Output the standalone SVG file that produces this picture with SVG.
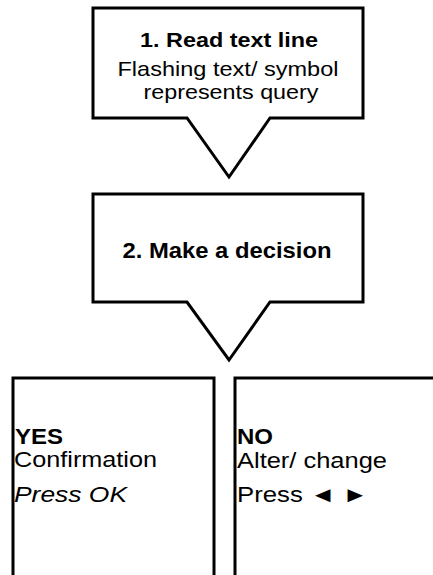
<svg xmlns="http://www.w3.org/2000/svg" width="433" height="575" viewBox="0 0 433 575">
<style>
.box{fill:#fff;stroke:#000;stroke-width:3;stroke-linejoin:miter}
text{font-family:"Liberation Sans",Arial,"DejaVu Sans",sans-serif;fill:#000}
.t{font-size:21px}
.b{font-weight:bold}
.c{text-anchor:middle}
.big{font-size:22px}
</style>
<rect width="433" height="575" fill="#fff"/>
<g id="step1">
<path class="box" d="M93,8 H363 V118 H270 L229,177 L187,118 H93 Z"/>
<text class="t b c" x="229" y="47" textLength="178" lengthAdjust="spacingAndGlyphs">1. Read text line</text>
<text class="t c" x="228" y="76" textLength="221" lengthAdjust="spacingAndGlyphs">Flashing text/ symbol</text>
<text class="t c" x="231" y="99" textLength="175" lengthAdjust="spacingAndGlyphs">represents query</text>
</g>
<g id="step2">
<path class="box" d="M93,194 H363 V302 H270 L229,360 L187,302 H93 Z"/>
<text class="big b c" x="227" y="258" textLength="209" lengthAdjust="spacingAndGlyphs">2. Make a decision</text>
</g>
<g id="yes">
<rect class="box" x="13" y="378" width="201" height="210"/>
<text class="big b" x="15" y="444" textLength="48" lengthAdjust="spacingAndGlyphs">YES</text>
<text class="big" x="14" y="467" textLength="143" lengthAdjust="spacingAndGlyphs">Confirmation</text>
<text class="big" x="14" y="502" font-style="italic" textLength="113" lengthAdjust="spacingAndGlyphs">Press OK</text>
</g>
<g id="no">
<rect class="box" x="235" y="378" width="210" height="210"/>
<text class="big b" x="237" y="444" textLength="36" lengthAdjust="spacingAndGlyphs">NO</text>
<text class="big" x="237" y="468" textLength="150" lengthAdjust="spacingAndGlyphs">Alter/ change</text>
<text class="big" x="237" y="502" textLength="131" lengthAdjust="spacingAndGlyphs">Press ◄ ►</text>
</g>
<g id="connectors"/>
</svg>
